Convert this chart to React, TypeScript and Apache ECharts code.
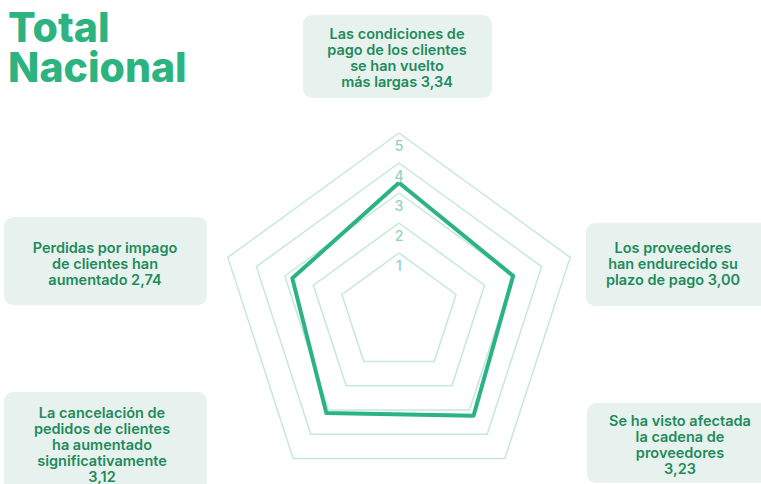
import React, { useEffect, useRef } from "react";
import * as echarts from "echarts";

// Radar axes, counter-clockwise from the top
const categories: string[] = [
  "Las condiciones de\npago de los clientes\nse han vuelto\nmás largas",
  "Perdidas por impago\nde clientes han\naumentado",
  "La cancelación de\npedidos de clientes\nha aumentado\nsignificativamente",
  "Se ha visto afectada\nla cadena de\nproveedores",
  "Los proveedores\nhan endurecido su\nplazo de pago",
];
const values: number[] = [3.34, 2.74, 3.12, 3.23, 3.0];
const valueOnOwnLine: boolean[] = [false, false, true, true, false];
const tickLabels: number[] = [1, 2, 3, 4, 5];
const axisMin = -1;
const axisMax = 5;

const TITLE_LINES: string[] = ["Total", "Nacional"];

const GREEN = "#2db37f";
const LINE_GREEN = "#2bb383";
const GRID = "#c4e8da";
const LABEL = "#92d4b9";
const BOX_BG = "#e7f1ed";
const BOX_TEXT = "#1f8b5c";
const FONT = "Inter, 'Noto Sans', sans-serif";

// box frames: [x, y, w, h] (layout only)
const boxFrames: number[][] = [
  [303, 15, 189, 83],
  [4, 217, 203, 88],
  [4, 392, 203, 104],
  [587, 403, 190, 80],
  [586, 223, 190, 83],
];
const textCenters: number[][] = [
  [397, 57],
  [105, 263],
  [102, 444],
  [680, 444],
  [673, 263],
];

function fmt(v: number): string {
  return v.toFixed(2).replace(".", ",");
}

export default function App() {
  const ref = useRef<HTMLDivElement>(null);
  useEffect(() => {
    if (!ref.current) return;
    const chart = echarts.init(ref.current, null, { renderer: "svg" });
    const graphics: any[] = [];
    TITLE_LINES.forEach((t, i) => {
      graphics.push({
        type: "text",
        x: 8,
        y: 27 + i * 40,
        z: 3,
        style: {
          text: t,
          fill: GREEN,
          fontFamily: FONT,
          fontWeight: 800,
          fontSize: 41,
          align: "left",
          verticalAlign: "middle",
        },
      });
    });
    categories.forEach((c, i) => {
      const [x, y, w, h] = boxFrames[i];
      graphics.push({
        type: "rect",
        shape: { x, y, width: w, height: h, r: 9 },
        style: { fill: BOX_BG },
        z: 1,
      });
      const [tx, ty] = textCenters[i];
      graphics.push({
        type: "text",
        x: tx,
        y: ty,
        z: 2,
        style: {
          text: c + (valueOnOwnLine[i] ? "\n" : " ") + fmt(values[i]),
          fill: BOX_TEXT,
          fontFamily: FONT,
          fontWeight: 600,
          fontSize: 14.5,
          lineHeight: 16,
          align: "center",
          verticalAlign: "middle",
        },
      });
    });
    const colors = [] as string[];
    for (let v = axisMin; v <= axisMax; v++) {
      colors.push(tickLabels.indexOf(v) >= 0 ? GRID : "rgba(0,0,0,0)");
    }
    chart.setOption({
      animation: false,
      backgroundColor: "#ffffff",
      graphic: graphics,
      radar: {
        center: [399, 313],
        radius: 180,
        startAngle: 90,
        splitNumber: axisMax - axisMin,
        shape: "polygon",
        axisName: { show: false },
        axisLine: { show: false },
        axisTick: { show: false },
        axisLabel: { show: false },
        splitArea: { show: false },
        splitLine: { lineStyle: { color: colors, width: 1.5 } },
        indicator: categories.map((c, i) => ({
          name: c,
          min: axisMin,
          max: axisMax,
          axisLabel:
            i === 0
              ? {
                  show: true,
                  margin: 0,
                  align: "center",
                  verticalAlign: "top",
                  padding: [5, 0, 0, 0],
                  color: LABEL,
                  fontFamily: FONT,
                  fontWeight: 500,
                  fontSize: 14,
                  formatter: (v: number) =>
                    tickLabels.indexOf(Math.round(v)) >= 0 ? String(Math.round(v)) : "",
                }
              : { show: false },
        })),
      },
      series: [
        {
          type: "radar",
          symbol: "none",
          lineStyle: { color: LINE_GREEN, width: 4 },
          data: [{ value: values }],
        },
      ],
    });
    return () => chart.dispose();
  }, []);
  return (
    <div
      ref={ref}
      style={{ position: "fixed", left: 0, top: 0, width: 761, height: 484 }}
    />
  );
}
